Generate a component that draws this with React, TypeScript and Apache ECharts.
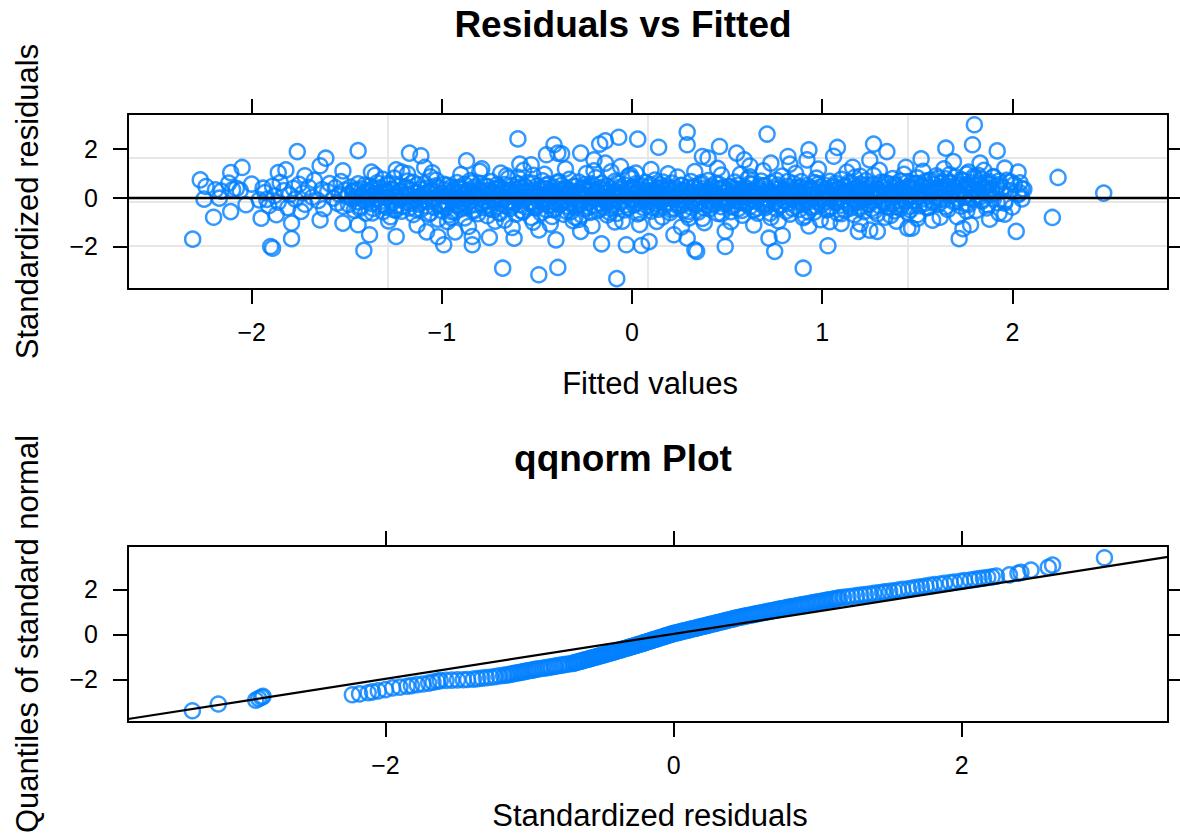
import React, { useEffect, useRef } from "react";
import * as echarts from "echarts";

const FONT = '"Liberation Sans", Arial, Helvetica, sans-serif';
const POINT_COLOR = "#0080ff";
const GRID_GREY = "#e6e6e6";

// Axis ranges of the two panels
const FIT_X_MIN = -2.65;
const FIT_X_MAX = 2.818;
const FIT_Y_MIN = -3.743;
const FIT_Y_MAX = 3.432;
const QQ_X_MIN = -3.787;
const QQ_X_MAX = 3.431;
const QQ_Y_MIN = -3.902;
const QQ_Y_MAX = 3.933;

// Tick positions
const fittedTicks = [-2, -1, 0, 1, 2];
const residTicks = [-2, 0, 2];
const qqXTicks = [-2, 0, 2];
const qqYTicks = [-2, 0, 2];

// Reference line of the qqnorm panel
const qqSlope = 1.0;
const qqIntercept = 0.02;

// Residuals vs fitted: [fitted value, standardized residual], points away from the central band
const fittedOuter: number[][] = [
  [-2.31, -1.7], [-2.27, 0.73], [-2.24, 0.46], [-2.25, -0.06], [-2.2, -0.8], [-2.19, 0.32], [-2.17, -0.02], [-2.16, 0.27],
  [-2.11, 1.03], [-2.11, -0.57], [-2.12, 0.6], [-2.1, 0.33], [-2.08, 0.38], [-2.06, 0.3], [-2.05, 1.24], [-2.03, -0.29],
  [-2.0, 0.56], [-1.96, -0.09], [-1.95, -0.84], [-1.9, -2.0], [-1.89, -2.07], [-1.94, 0.39], [-1.92, -0.07], [-1.87, -0.7],
  [-1.86, 1.03], [-1.82, 1.14], [-1.79, -1.68], [-1.79, -1.04], [-1.76, 1.89], [-1.72, 0.9], [-1.74, -0.56], [-1.64, 1.31],
  [-1.61, 1.62], [-1.64, -0.91], [-1.52, 1.1], [-1.44, 1.93], [-1.41, -2.16], [-1.38, -1.52], [-1.37, 1.05], [-1.44, -1.11],
  [-1.52, -1.04],
  [-0.6, 2.41], [-1.17, 1.83], [-1.11, 1.72], [-1.09, 1.24], [-1.24, 1.14], [-1.21, 1.05], [-0.87, 1.51], [-0.79, 1.18],
  [-0.69, 1.01], [-0.59, 1.38], [-0.53, 1.35], [-0.45, 1.76], [-0.41, 2.17], [-0.39, 1.83], [-0.37, 1.8], [-0.27, 1.83],
  [-0.2, 1.55], [-0.17, 2.2], [-0.14, 2.33], [-0.07, 2.48], [0.03, 2.4], [-0.14, 1.42], [-0.06, 1.28], [0.02, 1.01],
  [-0.2, 1.1], [-1.24, -1.59], [-0.99, -1.93], [-0.84, -1.93], [-0.84, -1.59], [-0.75, -1.63], [-0.68, -2.89], [-0.62, -1.66],
  [-0.49, -3.16], [-0.39, -2.86], [-0.4, -1.73], [-0.16, -1.89], [-0.08, -3.32], [-0.03, -1.93], [0.05, -1.96], [-1.08, -1.4],
  [-1.02, -1.6], [-0.93, -1.4], [-0.27, -1.38], [-0.49, -1.32],
  [0.29, 2.69], [0.29, 2.17], [0.14, 2.07], [0.71, 2.61], [0.46, 2.1], [0.55, 1.83], [0.59, 1.55], [0.37, 1.69],
  [0.4, 1.62], [0.82, 1.69], [0.93, 1.96], [0.92, 1.55], [1.08, 2.06], [1.06, 1.7], [1.27, 2.2], [1.34, 1.89],
  [0.73, 1.42], [0.62, 1.3], [0.83, 1.38], [1.16, 1.25], [1.25, 1.55], [0.9, -2.89], [0.75, -2.2], [1.03, -1.97],
  [0.49, -2.0], [0.33, -2.14], [0.34, -2.2], [0.29, -1.66], [0.09, -1.8], [0.22, -1.52], [0.72, -1.66], [0.79, -1.55],
  [0.49, -1.37], [1.19, -1.38], [1.25, -1.33], [1.29, -1.38], [1.36, -0.73], [1.45, -1.25], [1.1, -1.05],
  [1.8, 2.99], [1.79, 2.17], [1.65, 2.03], [1.92, 1.92], [1.52, 1.59], [1.69, 1.48], [1.83, 1.42], [1.96, 1.21],
  [2.03, 1.05], [2.24, 0.83], [2.48, 0.19], [2.05, 0.36], [2.04, 0.2], [1.9, 0.84], [1.93, 0.54], [1.99, 0.65],
  [1.96, -0.22], [1.93, -0.63], [1.96, -0.67], [2.02, -1.38], [2.21, -0.81], [1.72, -1.68], [1.74, -1.27], [1.78, -1.11],
  [1.47, -1.25], [1.76, -0.55], [1.56, -0.4], [1.62, -0.8], [1.5, -0.85],
];

// Residuals vs fitted: points on the fringe of the central band
const fittedFringe: number[][] = [
  [-1.35, 0.92], [-1.28, -0.95], [-1.18, 0.98], [-1.13, -1.12], [-1.05, 1.02], [-0.97, -0.98], [-0.9, 0.95], [-0.86, -1.18],
  [-0.8, 1.08], [-0.72, -0.96], [-0.66, 0.9], [-0.63, -1.22], [-0.57, 1.12], [-0.52, -1.0], [-0.46, 0.96], [-0.43, -1.08],
  [-0.35, 1.18], [-0.31, -0.94], [-0.24, 0.99], [-0.21, -1.15], [-0.11, 1.06], [-0.09, -0.99], [-0.01, 0.93], [0.04, -1.1],
  [0.1, 1.15], [0.13, -0.97], [0.19, 0.98], [0.26, -1.2], [0.33, 1.07], [0.38, -1.02], [0.45, 1.2], [0.52, -0.98],
  [0.57, 0.96], [0.64, -1.12], [0.69, 1.1], [0.77, -0.95], [0.86, 1.0], [0.93, -1.16], [0.98, 1.17], [1.04, -0.98],
  [1.13, 1.05], [1.2, -1.07], [1.3, 1.12], [1.39, -0.96], [1.44, 1.25], [1.53, 1.08], [1.58, -0.92], [1.64, 1.18],
  [1.71, -0.78], [1.77, 1.05], [1.85, 1.12], [1.88, -0.88],
  [-1.25, 0.8], [-0.95, -0.82], [-0.6, 0.84], [-0.3, -0.8], [0.0, 0.78], [0.3, -0.83], [0.62, 0.86], [0.9, -0.82],
  [1.2, 0.88], [1.5, -0.7], [1.67, 0.95], [1.82, 0.92],
];

// Residuals vs fitted: the dense band around zero, left to right
const fittedCoreLeft: number[][] = [
  [-1.93, 0.21], [-1.91, -0.33], [-1.89, 0.47], [-1.88, 0.08], [-1.86, -0.18], [-1.85, 0.62], [-1.83, 0.29], [-1.81, -0.41],
  [-1.8, 0.12], [-1.78, 0.38], [-1.77, -0.06], [-1.75, 0.55], [-1.73, 0.19], [-1.72, -0.27], [-1.7, 0.43], [-1.68, 0.02],
  [-1.67, 0.71], [-1.65, -0.12], [-1.63, 0.33], [-1.62, -0.45], [-1.6, 0.25], [-1.59, 0.58], [-1.57, -0.02], [-1.56, 0.41],
  [-1.55, -0.22], [-1.54, 0.14], [-1.53, 0.66], [-1.52, -0.35], [-1.51, 0.31], [-1.5, 0.05],
  [-1.49, 0.12], [-1.49, -0.28], [-1.48, 0.44], [-1.47, -0.05], [-1.47, 0.23], [-1.46, -0.51], [-1.46, 0.31], [-1.45, 0.02],
  [-1.44, -0.17], [-1.44, 0.57], [-1.43, -0.36], [-1.42, 0.09], [-1.42, 0.36], [-1.41, -0.11], [-1.41, 0.18], [-1.4, -0.63],
  [-1.39, 0.27], [-1.39, -0.02], [-1.38, 0.48], [-1.37, -0.24], [-1.37, 0.06], [-1.36, 0.39], [-1.36, -0.44], [-1.35, 0.15],
  [-1.34, -0.08], [-1.34, 0.61], [-1.33, -0.31], [-1.32, 0.21], [-1.32, -0.14], [-1.31, 0.75], [-1.31, -0.57], [-1.3, 0.29],
  [-1.29, 0.01], [-1.29, -0.39], [-1.28, 0.52], [-1.27, -0.78], [-1.27, 0.34], [-1.26, -0.2], [-1.26, 0.04], [-1.25, -0.49],
  [-1.24, 0.17], [-1.24, -0.33], [-1.23, 0.46], [-1.22, -0.07], [-1.22, 0.26], [-1.21, -0.55], [-1.21, 0.11], [-1.2, 0.0],
  [-1.19, 0.38], [-1.19, -0.19], [-1.18, 0.68], [-1.17, -0.42], [-1.17, 0.07], [-1.16, -0.13], [-1.16, 0.32], [-1.15, -0.69],
  [-1.14, 0.2], [-1.14, -0.04], [-1.13, 0.53], [-1.12, -0.26], [-1.12, 0.03], [-1.11, 0.35], [-1.11, -0.47], [-1.1, 0.14],
  [-1.09, -0.1], [-1.09, 0.58], [-1.08, -0.34], [-1.07, 0.24], [-1.07, -0.16], [-1.06, 0.86], [-1.06, -0.62], [-1.05, 0.28],
  [-1.04, -0.01], [-1.04, -0.4], [-1.03, 0.72], [-1.02, -0.88], [-1.02, 0.4], [-1.01, -0.23], [-1.01, 0.1], [-1.0, -0.53],
  [-0.99, -0.15], [-0.99, 0.33], [-0.98, -0.42], [-0.98, 0.07], [-0.97, 0.51], [-0.97, -0.26], [-0.96, 0.19], [-0.96, -0.71],
  [-0.95, 0.02], [-0.95, 0.44], [-0.94, -0.09], [-0.94, 0.27], [-0.93, -0.58], [-0.93, 0.13], [-0.92, -0.33], [-0.92, 0.62],
  [-0.91, -0.04], [-0.91, 0.21], [-0.9, -0.46], [-0.9, 0.38], [-0.89, 0.09], [-0.89, -0.19], [-0.88, 0.55], [-0.88, -0.83],
  [-0.87, 0.16], [-0.87, -0.06], [-0.86, 0.31], [-0.86, -0.37], [-0.85, 0.7], [-0.85, -0.12], [-0.84, 0.24], [-0.84, -0.52],
  [-0.83, 0.04], [-0.83, 0.43], [-0.82, -0.29], [-0.82, 0.11], [-0.81, -0.65], [-0.81, 0.35], [-0.8, -0.01], [-0.8, 0.59],
  [-0.79, -0.22], [-0.79, 0.18], [-0.78, -0.4], [-0.78, 0.08], [-0.77, 0.47], [-0.77, -0.11], [-0.76, 0.29], [-0.76, -0.74],
  [-0.75, 0.14], [-0.75, -0.31], [-0.74, 0.66], [-0.74, -0.03], [-0.73, 0.22], [-0.73, -0.49], [-0.72, 0.37], [-0.72, -0.17],
  [-0.71, 0.05], [-0.71, 0.53], [-0.7, -0.6], [-0.7, 0.12], [-0.69, -0.25], [-0.69, 0.41], [-0.68, -0.07], [-0.68, 0.26],
  [-0.67, -0.92], [-0.67, 0.19], [-0.66, -0.35], [-0.66, 0.01], [-0.65, 0.79], [-0.65, -0.14], [-0.64, 0.3], [-0.64, -0.44],
  [-0.63, 0.1], [-0.63, 0.49], [-0.62, -0.21], [-0.62, 0.16], [-0.61, -0.67], [-0.61, 0.34], [-0.6, -0.05], [-0.6, 0.57],
  [-0.59, -0.28], [-0.59, 0.06], [-0.58, 0.39], [-0.58, -0.54], [-0.57, 0.2], [-0.57, -0.1], [-0.56, 0.45], [-0.56, -0.38],
  [-0.55, 0.03], [-0.55, 0.63], [-0.54, -0.18], [-0.54, 0.25], [-0.53, -0.81], [-0.53, 0.15], [-0.52, 0.92], [-0.52, -0.3],
  [-0.51, 0.21], [-0.51, -0.36], [-0.5, 0.05], [-0.5, 0.48], [-0.49, -0.13], [-0.49, 0.3], [-0.48, -0.62], [-0.48, 0.11],
  [-0.47, -0.24], [-0.47, 0.69], [-0.46, -0.02], [-0.46, 0.37], [-0.45, -0.5], [-0.45, 0.17], [-0.44, -0.08], [-0.44, 0.56],
  [-0.43, -0.31], [-0.43, 0.26], [-0.42, -0.77], [-0.42, 0.08], [-0.41, 0.42], [-0.41, -0.16], [-0.4, 0.14], [-0.4, -0.43],
  [-0.39, 0.61], [-0.39, -0.05], [-0.38, 0.32], [-0.38, -0.28], [-0.37, 0.01], [-0.37, 0.51], [-0.36, -0.68], [-0.36, 0.19],
  [-0.35, -0.11], [-0.35, 0.4], [-0.34, -0.35], [-0.34, 0.07], [-0.33, 0.75], [-0.33, -0.21], [-0.32, 0.28], [-0.32, -0.57],
  [-0.31, 0.12], [-0.31, -0.03], [-0.3, 0.46], [-0.3, -0.4], [-0.29, 0.23], [-0.29, -0.14], [-0.28, 0.64], [-0.28, -0.89],
  [-0.27, 0.16], [-0.27, -0.26], [-0.26, 0.35], [-0.26, -0.07], [-0.25, 0.54], [-0.25, -0.46], [-0.24, 0.1], [-0.24, 0.27],
  [-0.23, -0.19], [-0.23, 0.02], [-0.22, -0.6], [-0.22, 0.44], [-0.21, -0.12], [-0.21, 0.31], [-0.2, -0.33], [-0.2, 0.15],
  [-0.19, 0.82], [-0.19, -0.04], [-0.18, 0.22], [-0.18, -0.53], [-0.17, 0.38], [-0.17, -0.23], [-0.16, 0.06], [-0.16, 0.58],
  [-0.15, -0.38], [-0.15, 0.18], [-0.14, -0.09], [-0.14, 0.29], [-0.13, -0.71], [-0.13, 0.47], [-0.12, -0.17], [-0.12, 0.03],
  [-0.11, 0.36], [-0.11, -0.45], [-0.1, 0.13], [-0.1, -0.27], [-0.09, 0.67], [-0.09, -0.01], [-0.08, 0.24], [-0.08, -0.64],
  [-0.07, 0.09], [-0.07, 0.41], [-0.06, -0.2], [-0.06, 0.33], [-0.05, -0.96], [-0.05, 0.2], [-0.04, -0.06], [-0.04, 0.52],
  [-0.03, -0.3], [-0.03, 0.04], [-0.02, 0.88], [-0.02, -0.41],
];

const fittedCoreRight: number[][] = [
  [0.0, -0.08], [0.0, 0.4], [0.01, -0.29], [0.01, 0.14], [0.02, 0.57], [0.02, -0.19], [0.03, 0.25], [0.03, -0.66],
  [0.04, 0.06], [0.04, 0.35], [0.05, -0.12], [0.05, 0.49], [0.06, -0.41], [0.06, 0.18], [0.07, -0.02], [0.07, 0.63],
  [0.08, -0.34], [0.08, 0.27], [0.09, -0.05], [0.09, 0.44], [0.1, 0.1], [0.1, -0.55], [0.11, 0.31], [0.11, -0.15],
  [0.12, 0.72], [0.12, -0.25], [0.13, 0.04], [0.13, 0.39], [0.14, -0.47], [0.14, 0.2], [0.15, -0.09], [0.15, 0.53],
  [0.16, -0.79], [0.16, 0.15], [0.17, 0.28], [0.17, -0.36], [0.18, 0.07], [0.18, 0.46], [0.19, -0.18], [0.19, 0.34],
  [0.2, -0.61], [0.2, 0.12], [0.21, 0.6], [0.21, -0.06], [0.22, 0.23], [0.22, -0.43], [0.23, 0.01], [0.23, 0.37],
  [0.24, -0.22], [0.24, 0.85], [0.25, -0.32], [0.25, 0.16], [0.26, -0.1], [0.26, 0.51], [0.27, -0.52], [0.27, 0.29],
  [0.28, 0.03], [0.28, -0.17], [0.29, 0.42], [0.29, -0.7], [0.3, 0.19], [0.3, 0.08], [0.31, -0.38], [0.31, 0.66],
  [0.32, -0.13], [0.32, 0.24], [0.33, -0.27], [0.33, 0.45], [0.34, -0.01], [0.34, 0.33], [0.35, -0.58], [0.35, 0.11],
  [0.36, 0.55], [0.36, -0.2], [0.37, 0.26], [0.37, -0.85], [0.38, 0.05], [0.38, 0.38], [0.39, -0.3], [0.39, 0.17],
  [0.4, 0.7], [0.4, -0.11], [0.41, 0.3], [0.41, -0.45], [0.42, 0.09], [0.42, 0.47], [0.43, -0.24], [0.43, 0.21],
  [0.44, -0.04], [0.44, 0.59], [0.45, -0.64], [0.45, 0.13], [0.46, 0.36], [0.46, -0.16], [0.47, 0.93], [0.47, -0.37],
  [0.48, 0.02], [0.48, 0.43], [0.49, -0.26], [0.49, 0.22],
  [0.5, 0.28], [0.5, -0.21], [0.51, 0.46], [0.51, -0.04], [0.52, 0.15], [0.52, -0.57], [0.53, 0.37], [0.53, 0.06],
  [0.54, -0.3], [0.54, 0.64], [0.55, -0.12], [0.55, 0.22], [0.56, -0.44], [0.56, 0.52], [0.57, 0.09], [0.57, -0.18],
  [0.58, 0.33], [0.58, -0.72], [0.59, 0.19], [0.59, 0.0], [0.6, 0.41], [0.6, -0.26], [0.61, 0.12], [0.61, 0.78],
  [0.62, -0.37], [0.62, 0.25], [0.63, -0.07], [0.63, 0.55], [0.64, -0.5], [0.64, 0.17], [0.65, 0.03], [0.65, -0.15],
  [0.66, 0.44], [0.66, -0.63], [0.67, 0.31], [0.67, 0.08], [0.68, -0.24], [0.68, 0.68], [0.69, -0.02], [0.69, 0.2],
  [0.7, -0.41], [0.7, 0.49], [0.71, 0.14], [0.71, -0.33], [0.72, 0.27], [0.72, -0.09], [0.73, 0.6], [0.73, -0.81],
  [0.74, 0.23], [0.74, 0.05], [0.75, 0.36], [0.75, -0.19], [0.76, 0.71], [0.76, -0.46], [0.77, 0.13], [0.77, -0.05],
  [0.78, 0.4], [0.78, -0.28], [0.79, 0.18], [0.79, 0.89], [0.8, -0.13], [0.8, 0.3], [0.81, -0.55], [0.81, 0.07],
  [0.82, 0.47], [0.82, -0.22], [0.83, 0.24], [0.83, -0.67], [0.84, 0.11], [0.84, 0.34], [0.85, -0.01], [0.85, 0.58],
  [0.86, -0.35], [0.86, 0.16], [0.87, -0.1], [0.87, 0.43], [0.88, -0.48], [0.88, 0.26], [0.89, 0.04], [0.89, 0.66],
  [0.9, -0.27], [0.9, 0.21], [0.91, -0.75], [0.91, 0.35], [0.92, -0.08], [0.92, 0.5], [0.93, -0.16], [0.93, 0.1],
  [0.94, 0.38], [0.94, -0.39], [0.95, 0.29], [0.95, -0.03], [0.96, 0.62], [0.96, -0.58], [0.97, 0.14], [0.97, 0.8],
  [0.98, -0.2], [0.98, 0.32], [0.99, -0.9], [0.99, 0.45],
  [1.0, 0.19], [1.0, -0.27], [1.01, 0.52], [1.01, 0.03], [1.02, -0.14], [1.02, 0.36], [1.03, -0.48], [1.03, 0.24],
  [1.04, 0.67], [1.04, -0.06], [1.05, 0.12], [1.05, -0.39], [1.06, 0.44], [1.06, 0.3], [1.07, -0.2], [1.07, 0.59],
  [1.08, -0.63], [1.08, 0.15], [1.09, 0.01], [1.09, 0.38], [1.1, -0.31], [1.1, 0.75], [1.11, 0.21], [1.11, -0.1],
  [1.12, 0.48], [1.12, -0.52], [1.13, 0.27], [1.13, 0.07], [1.14, -0.23], [1.14, 0.62], [1.15, 0.16], [1.15, -0.42],
  [1.16, 0.34], [1.16, -0.03], [1.17, 0.83], [1.17, -0.7], [1.18, 0.25], [1.18, 0.09], [1.19, -0.17], [1.19, 0.46],
  [1.2, -0.35], [1.2, 0.56], [1.21, 0.13], [1.21, -0.08], [1.22, 0.31], [1.22, -0.57], [1.23, 0.7], [1.23, 0.2],
  [1.24, -0.26], [1.24, 0.41], [1.25, 0.05], [1.25, -0.13], [1.26, 0.53], [1.26, -0.45], [1.27, 0.28], [1.27, 0.91],
  [1.28, -0.02], [1.28, 0.18], [1.29, -0.66], [1.29, 0.37], [1.3, 0.1], [1.3, -0.33], [1.31, 0.64], [1.31, 0.23],
  [1.32, -0.19], [1.32, 0.43], [1.33, -0.8], [1.33, 0.14], [1.34, 0.33], [1.34, -0.05], [1.35, 0.57], [1.35, -0.38],
  [1.36, 0.26], [1.36, 0.02], [1.37, 0.78], [1.37, -0.24], [1.38, 0.4], [1.38, -0.54], [1.39, 0.17], [1.39, 0.49],
  [1.4, -0.11], [1.4, 0.29], [1.41, -0.44], [1.41, 0.68], [1.42, 0.08], [1.42, -0.29], [1.43, 0.35], [1.43, 0.96],
  [1.44, -0.15], [1.44, 0.22], [1.45, -0.6], [1.45, 0.45], [1.46, 0.11], [1.46, -0.36], [1.47, 0.6], [1.47, 0.04],
  [1.48, 0.36], [1.48, -0.12], [1.49, 0.58], [1.5, 0.14], [1.5, 0.81], [1.51, -0.33], [1.52, 0.27], [1.52, 0.49],
  [1.53, -0.05], [1.54, 0.66], [1.54, 0.21], [1.55, -0.41], [1.56, 0.43], [1.56, 0.08], [1.57, 0.72], [1.58, -0.19],
  [1.58, 0.33], [1.59, 0.55], [1.6, 0.01], [1.6, 0.9], [1.61, -0.27], [1.62, 0.4], [1.62, 0.17], [1.63, 0.63],
  [1.64, -0.09], [1.64, 0.29], [1.65, 0.77], [1.66, -0.48], [1.66, 0.46], [1.67, 0.11], [1.68, 0.6], [1.68, 0.24],
  [1.69, -0.16], [1.7, 0.85], [1.7, 0.38], [1.71, -0.02], [1.72, 0.52], [1.72, 0.19], [1.73, -0.35], [1.74, 0.69],
  [1.74, 0.31], [1.75, 0.06], [1.76, 0.97], [1.76, -0.23], [1.77, 0.45], [1.78, 0.15], [1.78, 0.61], [1.79, -0.07],
  [1.8, 0.35], [1.8, 0.79], [1.81, -0.52], [1.82, 0.26], [1.82, 0.5], [1.83, 0.03], [1.84, 0.74], [1.84, -0.14],
  [1.85, 0.41], [1.86, 0.22], [1.86, 0.64], [1.87, -0.3], [1.88, 0.12], [1.88, 0.56], [1.89, 0.34], [1.9, -0.04],
  [1.9, 0.87], [1.91, 0.18], [1.92, 0.47], [1.92, -0.21], [1.93, 0.68], [1.94, 0.3],
  [1.95, 0.42], [1.96, -0.15], [1.97, 0.71], [1.99, 0.28], [2.0, -0.38], [2.01, 0.55], [2.03, 0.12], [2.04, 0.61],
  [2.05, -0.05], [2.06, 0.35],
];

// Residuals vs fitted: further points packed inside the central band
const fittedCoreInner: number[][] = [
  [-1.445, 0.31], [-1.432, -0.44], [-1.418, 0.07], [-1.405, 0.52], [-1.391, -0.18], [-1.378, 0.24], [-1.365, -0.62], [-1.351, 0.15], [-1.338, -0.02], [-1.324, 0.41],
  [-1.311, -0.29], [-1.298, 0.19], [-1.284, 0.58], [-1.271, -0.09], [-1.257, 0.33], [-1.244, -0.51], [-1.231, 0.05], [-1.217, 0.27], [-1.204, -0.36], [-1.19, 0.46],
  [-1.177, 0.12], [-1.164, -0.23], [-1.15, 0.63], [-1.137, -0.47], [-1.123, 0.21], [-1.11, 0.01], [-1.097, -0.14], [-1.083, 0.38], [-1.07, -0.68], [-1.056, 0.28],
  [-1.043, -0.05], [-1.03, 0.49], [-1.016, -0.31], [-1.003, 0.17], [-0.989, 0.55], [-0.976, -0.21], [-0.963, 0.09], [-0.949, -0.57], [-0.936, 0.35], [-0.922, -0.11],
  [-0.909, 0.43], [-0.896, 0.02], [-0.882, -0.39], [-0.869, 0.26], [-0.855, -0.16], [-0.842, 0.61], [-0.829, -0.53], [-0.815, 0.13], [-0.802, 0.32], [-0.788, -0.27],
  [-0.775, 0.06], [-0.762, 0.47], [-0.748, -0.45], [-0.735, 0.22], [-0.721, -0.07], [-0.708, 0.37], [-0.695, -0.64], [-0.681, 0.18], [-0.668, 0.54], [-0.654, -0.19],
  [-0.641, 0.29], [-0.628, -0.34], [-0.614, 0.11], [-0.601, -0.01], [-0.587, 0.44], [-0.574, -0.58], [-0.561, 0.25], [-0.547, 0.04], [-0.534, -0.24], [-0.52, 0.59],
  [-0.507, -0.42], [-0.494, 0.16], [-0.48, 0.36], [-0.467, -0.12], [-0.453, 0.51], [-0.44, -0.3], [-0.427, 0.08], [-0.413, -0.49], [-0.4, 0.23], [-0.386, 0.66],
  [-0.373, -0.17], [-0.36, 0.34], [-0.346, -0.55], [-0.333, 0.14], [-0.319, 0.03], [-0.306, 0.48], [-0.293, -0.26], [-0.279, 0.2], [-0.266, -0.71], [-0.252, 0.39],
  [-0.239, 0.1], [-0.226, -0.38], [-0.212, 0.57], [-0.199, -0.06], [-0.185, 0.27], [-0.172, -0.46], [-0.159, 0.42], [-0.145, -0.13], [-0.132, 0.19], [-0.118, -0.6],
  [-0.105, -0.33], [-0.092, 0.24], [-0.078, 0.6], [-0.065, -0.2], [-0.051, 0.12], [-0.038, -0.5], [-0.025, 0.35], [-0.011, -0.03], [0.002, 0.45], [0.016, -0.28],
  [0.029, 0.18], [0.042, -0.61], [0.056, 0.3], [0.069, 0.07], [0.083, -0.15], [0.096, 0.53], [0.109, -0.41], [0.123, 0.21], [0.136, -0.08], [0.15, 0.4],
  [0.163, 0.64], [0.176, -0.25], [0.19, 0.13], [0.203, -0.48], [0.217, 0.33], [0.23, 0.0], [0.243, -0.35], [0.257, 0.5], [0.27, -0.1], [0.284, 0.26],
  [0.297, -0.56], [0.31, 0.15], [0.324, 0.43], [0.337, -0.22], [0.351, 0.05], [0.364, 0.62], [0.377, -0.4], [0.391, 0.28], [0.404, -0.04], [0.418, 0.37],
  [0.431, -0.3], [0.444, 0.09], [0.458, 0.55], [0.471, -0.66], [0.485, 0.2], [0.498, -0.12], [0.511, 0.46], [0.525, -0.37], [0.538, 0.14], [0.552, 0.31],
  [0.565, 0.02], [0.578, -0.52], [0.592, 0.39], [0.605, -0.18], [0.619, 0.58], [0.632, -0.07], [0.645, 0.23], [0.659, -0.43], [0.672, 0.11], [0.686, 0.49],
  [0.699, -0.26], [0.712, 0.34], [0.726, -0.63], [0.739, 0.17], [0.753, 0.06], [0.766, 0.52], [0.779, -0.32], [0.793, 0.25], [0.806, -0.14], [0.82, 0.67],
  [0.833, 0.08], [0.846, -0.45], [0.86, 0.3], [0.873, -0.01], [0.887, 0.44], [0.9, -0.23], [0.913, 0.16], [0.927, -0.58], [0.94, 0.38], [0.954, 0.12],
  [0.967, -0.36], [0.98, 0.56], [0.994, -0.09], [1.007, 0.27], [1.021, -0.5], [1.034, 0.19], [1.047, 0.03], [1.061, 0.47], [1.074, -0.21], [1.088, 0.35],
  [1.101, -0.65], [1.114, 0.22], [1.128, 0.1], [1.141, -0.31], [1.155, 0.6], [1.168, -0.16], [1.181, 0.41], [1.195, -0.44], [1.208, 0.29], [1.222, 0.04],
  [1.235, 0.52], [1.248, -0.27], [1.262, 0.15], [1.275, -0.54], [1.289, 0.36], [1.302, 0.07], [1.315, -0.12], [1.329, 0.63], [1.342, -0.38], [1.356, 0.2],
  [1.369, 0.08], [1.382, 0.55], [1.396, -0.37], [1.409, 0.34], [1.423, 0.23], [1.436, -0.1], [1.449, 0.65], [1.463, -0.5], [1.476, 0.42], [1.49, 0.19],
  [1.503, 0.58], [1.516, 0.05], [1.53, 0.46], [1.543, -0.22], [1.557, 0.7], [1.57, 0.21], [1.583, -0.13], [1.597, 0.38], [1.61, 0.8], [1.624, -0.04],
  [1.637, 0.34], [1.65, -0.37], [1.664, 0.63], [1.677, 0.14], [1.691, 0.49], [1.704, -0.15], [1.717, 0.25], [1.731, 0.74], [1.744, 0.01], [1.758, 0.53],
  [1.771, -0.28], [1.784, 0.41], [1.798, 0.88], [1.811, 0.1], [1.825, 0.57], [1.838, -0.09], [1.851, 0.31], [1.865, -0.42], [1.878, 0.66], [1.892, 0.36],
];

// qqnorm: [standardized residual, quantile of standard normal], sorted
const qqPoints: number[][] = [
  [-3.34, -3.4], [-3.16, -3.1], [-2.9, -2.93], [-2.88, -2.86], [-2.86, -2.8], [-2.85, -2.76],
  [-2.23, -2.69], [-2.18, -2.65], [-2.12, -2.6], [-2.09, -2.56], [-2.05, -2.52], [-2.0, -2.46], [-1.95, -2.38], [-1.9, -2.35],
  [-1.85, -2.31], [-1.82, -2.28], [-1.78, -2.24], [-1.74, -2.21], [-1.7, -2.17], [-1.67, -2.13], [-1.64, -2.09], [-1.62, -2.06],
  [-1.58, -2.05], [-1.54, -2.04], [-1.5, -2.03], [-1.46, -2.02], [-1.43, -2.01], [-1.39, -1.99], [-1.36, -1.97], [-1.33, -1.95],
  [-1.3, -1.93], [-1.27, -1.91], [-1.24, -1.88], [-1.21, -1.85], [-1.18, -1.83], [-1.16, -1.81],
  [-1.144, -1.79], [-1.128, -1.77], [-1.112, -1.75], [-1.095, -1.73], [-1.079, -1.71], [-1.063, -1.69], [-1.047, -1.67],
  [-1.031, -1.65], [-1.015, -1.63], [-0.998, -1.61], [-0.982, -1.59], [-0.966, -1.57], [-0.95, -1.55],
  [-0.93, -1.53], [-0.91, -1.51], [-0.89, -1.49], [-0.87, -1.47], [-0.85, -1.45], [-0.83, -1.43], [-0.82, -1.41], [-0.8, -1.39],
  [-0.78, -1.37], [-0.76, -1.35], [-0.74, -1.33], [-0.72, -1.31], [-0.7, -1.29],
  [-0.689, -1.27], [-0.677, -1.25], [-0.666, -1.23], [-0.655, -1.21], [-0.643, -1.19], [-0.632, -1.17], [-0.621, -1.15],
  [-0.609, -1.13], [-0.598, -1.11], [-0.587, -1.09], [-0.575, -1.07], [-0.564, -1.05], [-0.553, -1.03], [-0.541, -1.01],
  [-0.53, -0.99], [-0.519, -0.97], [-0.507, -0.95], [-0.496, -0.93], [-0.485, -0.91], [-0.473, -0.89],
  [-0.457, -0.86], [-0.446, -0.84], [-0.436, -0.82], [-0.425, -0.8], [-0.415, -0.78], [-0.404, -0.76], [-0.394, -0.74],
  [-0.383, -0.72], [-0.373, -0.7], [-0.362, -0.68], [-0.352, -0.66], [-0.341, -0.64], [-0.331, -0.62], [-0.32, -0.6],
  [-0.31, -0.58], [-0.299, -0.56], [-0.289, -0.54], [-0.278, -0.52], [-0.268, -0.5], [-0.257, -0.48], [-0.247, -0.46],
  [-0.236, -0.44], [-0.226, -0.42], [-0.216, -0.4], [-0.207, -0.38], [-0.197, -0.36], [-0.187, -0.34], [-0.177, -0.32],
  [-0.167, -0.3], [-0.157, -0.28], [-0.148, -0.26], [-0.138, -0.24], [-0.128, -0.22], [-0.118, -0.2], [-0.108, -0.18],
  [-0.098, -0.16], [-0.089, -0.14], [-0.079, -0.12], [-0.069, -0.1], [-0.059, -0.08], [-0.049, -0.06], [-0.039, -0.04],
  [-0.03, -0.02], [-0.02, 0.0], [-0.01, 0.02],
  [0.002, 0.04], [0.014, 0.06], [0.027, 0.08], [0.04, 0.1], [0.052, 0.12], [0.065, 0.14], [0.078, 0.16], [0.091, 0.18],
  [0.104, 0.2], [0.116, 0.22], [0.129, 0.24], [0.142, 0.26], [0.155, 0.28], [0.167, 0.3], [0.18, 0.32],
  [0.193, 0.34], [0.205, 0.36], [0.218, 0.38], [0.231, 0.4], [0.243, 0.42], [0.256, 0.44], [0.268, 0.46], [0.281, 0.48],
  [0.294, 0.5], [0.306, 0.52], [0.319, 0.54], [0.332, 0.56], [0.344, 0.58], [0.357, 0.6], [0.369, 0.62], [0.382, 0.64],
  [0.395, 0.66], [0.407, 0.68], [0.42, 0.7], [0.433, 0.72], [0.445, 0.74], [0.458, 0.76],
  [0.473, 0.78], [0.489, 0.8], [0.504, 0.82], [0.52, 0.84], [0.535, 0.86], [0.551, 0.88], [0.566, 0.9], [0.581, 0.92],
  [0.597, 0.94], [0.612, 0.96], [0.628, 0.98], [0.643, 1.0], [0.659, 1.02], [0.674, 1.04], [0.689, 1.06], [0.705, 1.08],
  [0.72, 1.1], [0.736, 1.12], [0.751, 1.14], [0.767, 1.16], [0.782, 1.18], [0.797, 1.2],
  [0.814, 1.22], [0.831, 1.24], [0.848, 1.26], [0.865, 1.28], [0.882, 1.3], [0.898, 1.32], [0.915, 1.34], [0.932, 1.36],
  [0.949, 1.38], [0.966, 1.4], [0.983, 1.42], [1.0, 1.44], [1.017, 1.46], [1.034, 1.48], [1.051, 1.5], [1.068, 1.52],
  [1.085, 1.54], [1.102, 1.56], [1.119, 1.58], [1.136, 1.6], [1.152, 1.62],
  [1.18, 1.645], [1.21, 1.67], [1.24, 1.695], [1.27, 1.72], [1.3, 1.745], [1.33, 1.77], [1.36, 1.795], [1.39, 1.82],
  [1.42, 1.845], [1.45, 1.87], [1.47, 1.89], [1.5, 1.91],
  [1.53, 1.94], [1.56, 1.97], [1.59, 2.0], [1.63, 2.03], [1.66, 2.06], [1.69, 2.09], [1.72, 2.12], [1.75, 2.15],
  [1.78, 2.18], [1.81, 2.21], [1.85, 2.24],
  [1.88, 2.27], [1.92, 2.3], [1.95, 2.33], [1.99, 2.36], [2.02, 2.39], [2.06, 2.42], [2.09, 2.45], [2.12, 2.48],
  [2.15, 2.5], [2.18, 2.53], [2.21, 2.56], [2.24, 2.59],
  [2.33, 2.65], [2.39, 2.72], [2.41, 2.76], [2.48, 2.86], [2.6, 2.98], [2.63, 3.08], [2.99, 3.41],
];

const minusFormat = (v: number) => (v < 0 ? "\u2212" + Math.abs(v) : String(v));

const lineStyle = { color: "#000", width: 2 };

function valueAxis(grid: number, position: string, min: number, max: number, ticks: number[], labels: boolean) {
  return {
    type: "value",
    gridIndex: grid,
    position,
    min,
    max,
    axisLine: { show: true, onZero: false, lineStyle },
    axisTick: { show: true, inside: false, length: 15, customValues: ticks, lineStyle },
    axisLabel: {
      show: labels,
      customValues: ticks,
      margin: 30,
      fontSize: 25,
      fontFamily: FONT,
      color: "#000",
      formatter: minusFormat,
    },
    splitLine: { show: false },
  };
}

function quarterGridAxis(grid: number, position: string) {
  return {
    type: "value",
    gridIndex: grid,
    position,
    min: 0,
    max: 4,
    interval: 1,
    axisLine: { show: false },
    axisTick: { show: false },
    axisLabel: { show: false },
    splitLine: { show: true, lineStyle: { color: GRID_GREY, width: 1.8 } },
  };
}

const circleStyle = {
  color: "rgba(0,0,0,0)",
  borderColor: POINT_COLOR,
  borderWidth: 2.5,
};

function textEl(text: string, x: number, y: number, size: number, bold: boolean, rotation = 0) {
  return {
    type: "text",
    x,
    y,
    rotation,
    silent: true,
    style: {
      text,
      x: 0,
      y: 0,
      fill: "#000",
      font: `${bold ? "bold " : ""}${size}px ${FONT}`,
      textAlign: "center",
      textVerticalAlign: "middle",
    },
  };
}

export default function App() {
  const ref = useRef<HTMLDivElement>(null);

  useEffect(() => {
    document.body.style.margin = "0";
    document.body.style.overflow = "hidden";
    if (!ref.current) return;
    const chart = echarts.init(ref.current, undefined, { renderer: "svg" });

    const option = {
      animation: false,
      backgroundColor: "#fff",
      grid: [
        { left: 128, top: 114, width: 1040, height: 175 },
        { left: 128, top: 546, width: 1040, height: 176 },
      ],
      xAxis: [
        valueAxis(0, "bottom", FIT_X_MIN, FIT_X_MAX, fittedTicks, true),
        valueAxis(0, "top", FIT_X_MIN, FIT_X_MAX, fittedTicks, false),
        quarterGridAxis(0, "bottom"),
        valueAxis(1, "bottom", QQ_X_MIN, QQ_X_MAX, qqXTicks, true),
        valueAxis(1, "top", QQ_X_MIN, QQ_X_MAX, qqXTicks, false),
      ],
      yAxis: [
        valueAxis(0, "left", FIT_Y_MIN, FIT_Y_MAX, residTicks, true),
        valueAxis(0, "right", FIT_Y_MIN, FIT_Y_MAX, residTicks, false),
        quarterGridAxis(0, "left"),
        valueAxis(1, "left", QQ_Y_MIN, QQ_Y_MAX, qqYTicks, true),
        valueAxis(1, "right", QQ_Y_MIN, QQ_Y_MAX, qqYTicks, false),
      ],
      series: [
        {
          type: "scatter",
          name: "Residuals vs Fitted",
          xAxisIndex: 0,
          yAxisIndex: 0,
          data: [...fittedOuter, ...fittedFringe, ...fittedCoreLeft, ...fittedCoreRight, ...fittedCoreInner],
          symbol: "circle",
          symbolSize: 15,
          itemStyle: circleStyle,
          silent: true,
          z: 3,
          markLine: {
            silent: true,
            symbol: "none",
            label: { show: false },
            lineStyle: { color: "#000", width: 2.4, type: "solid" },
            data: [{ yAxis: 0 }],
          },
        },
        {
          type: "scatter",
          name: "qqnorm",
          xAxisIndex: 3,
          yAxisIndex: 3,
          data: qqPoints,
          symbol: "circle",
          symbolSize: 15,
          itemStyle: circleStyle,
          silent: true,
          z: 3,
        },
        {
          type: "line",
          name: "qqline",
          xAxisIndex: 3,
          yAxisIndex: 3,
          data: [
            [QQ_X_MIN, qqIntercept + qqSlope * QQ_X_MIN],
            [QQ_X_MAX, qqIntercept + qqSlope * QQ_X_MAX],
          ],
          symbol: "none",
          lineStyle: { color: "#000", width: 2.2 },
          silent: true,
          z: 4,
        },
      ],
      graphic: [
        textEl("Residuals vs Fitted", 623, 24, 37, true),
        textEl("Fitted values", 650, 383, 31, false),
        textEl("Standardized residuals", 27, 201.5, 31, false, Math.PI / 2),
        textEl("qqnorm Plot", 623, 458, 37, true),
        textEl("Standardized residuals", 650, 815, 31, false),
        textEl("Quantiles of standard normal", 27, 634, 31, false, Math.PI / 2),
      ],
    };

    chart.setOption(option as any);
    return () => {
      chart.dispose();
    };
  }, []);

  return <div ref={ref} style={{ width: 1180, height: 839 }} />;
}
